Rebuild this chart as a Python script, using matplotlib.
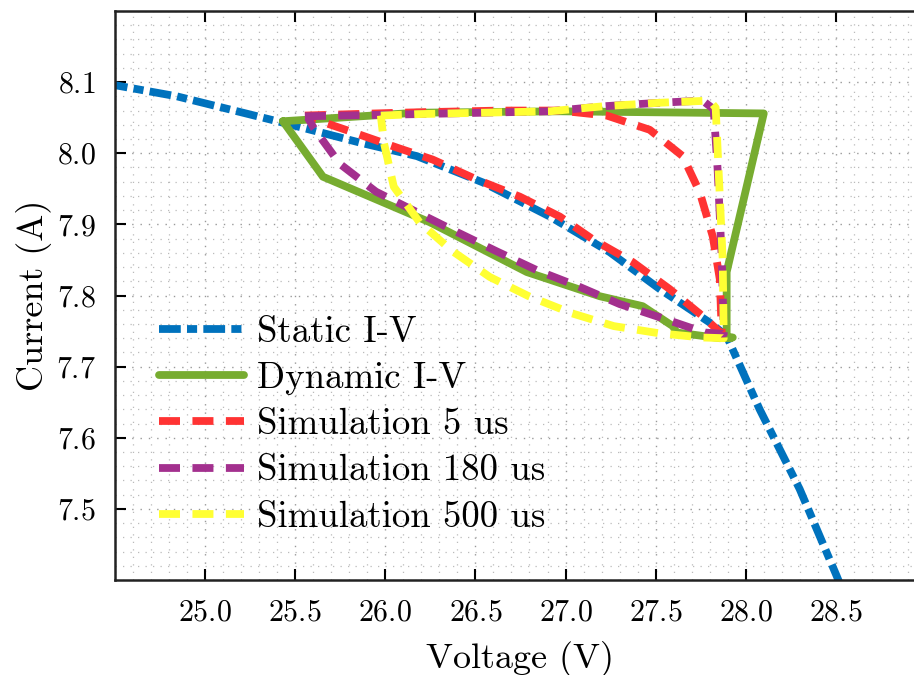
import matplotlib
matplotlib.use("Agg")
import matplotlib.pyplot as plt
from matplotlib.ticker import MultipleLocator

plt.rcParams['font.family'] = 'serif'
plt.rcParams['font.serif'] = ['cmr10']
plt.rcParams['mathtext.fontset'] = 'cm'
plt.rcParams['axes.formatter.use_mathtext'] = True

# static I-V curve
static_v = [24.45, 24.844, 25.21, 25.432, 25.859, 26.175, 26.541, 26.913, 27.245,
            27.523, 27.80, 27.894, 28.077, 28.299, 28.504, 28.53]
static_i = [8.098, 8.080, 8.057, 8.043, 8.015, 7.996, 7.959, 7.911, 7.861,
            7.809, 7.762, 7.743, 7.640, 7.528, 7.406, 7.39]

# measured dynamic loop
dyn_v = [25.432, 25.654, 26.247, 26.785, 27.19, 27.428, 27.595, 27.617, 27.856,
         27.928, 27.894, 27.894, 28.10, 26.968, 26.175, 25.432]
dyn_i = [8.045, 7.967, 7.903, 7.833, 7.799, 7.785, 7.757, 7.748, 7.740,
         7.741, 7.740, 7.833, 8.056, 8.059, 8.057, 8.045]

# simulation 5 us
sim5_v = [25.554, 26.081, 26.635, 26.968, 27.229, 27.467, 27.65, 27.745, 27.817,
          27.856, 27.867, 27.761, 27.578, 27.373, 27.151, 26.968, 26.746, 26.508,
          26.264, 26.064, 25.803, 25.582]
sim5_i = [8.053, 8.057, 8.060, 8.060, 8.053, 8.033, 7.996, 7.945, 7.883,
          7.823, 7.746, 7.771, 7.809, 7.847, 7.879, 7.911, 7.939, 7.963,
          7.991, 8.008, 8.031, 8.050]

# simulation 180 us
sim180_v = [25.554, 26.175, 26.541, 26.913, 27.207, 27.523, 27.761, 27.822, 27.844,
            27.867, 27.878, 27.772, 27.539, 27.30, 27.079, 26.846, 26.619, 26.391,
            26.169, 25.948, 25.748, 25.604, 25.57]
sim180_i = [8.052, 8.055, 8.057, 8.059, 8.066, 8.071, 8.074, 8.062, 7.977,
            7.851, 7.746, 7.748, 7.768, 7.788, 7.812, 7.835, 7.862, 7.890,
            7.918, 7.946, 7.985, 8.035, 8.050]

# simulation 500 us
sim500_v = [25.975, 26.175, 26.541, 26.913, 27.207, 27.523, 27.80, 27.833, 27.844,
            27.872, 27.878, 27.756, 27.517, 27.268, 27.035, 26.796, 26.58, 26.369,
            26.19, 26.047, 25.992, 25.975]
sim500_i = [8.053, 8.055, 8.057, 8.059, 8.066, 8.071, 8.074, 8.064, 8.005,
            7.851, 7.740, 7.741, 7.747, 7.757, 7.775, 7.799, 7.826, 7.863,
            7.903, 7.953, 8.015, 8.053]

fig = plt.figure(figsize=(9.14, 6.75), dpi=100)
ax = fig.add_axes([0.1258, 0.1407, 0.8873, 0.843])

lw = 5.6
dash = (2.7, 1.6)
ax.plot(static_v, static_i, color='#0072BD', lw=lw, dashes=(2.8, 0.8, 1.3, 0.8),
        dash_capstyle='butt', label='Static I-V')
ax.plot(dyn_v, dyn_i, color='#77AC30', lw=lw, solid_joinstyle='round',
        solid_capstyle='round', label='Dynamic I-V')
ax.plot(sim5_v, sim5_i, color='#FF3333', lw=lw, dashes=dash,
        label='Simulation 5 us')
ax.plot(sim180_v, sim180_i, color='#A3308E', lw=lw, dashes=dash,
        label='Simulation 180 us')
ax.plot(sim500_v, sim500_i, color='#FFFF33', lw=lw, dashes=dash,
        label='Simulation 500 us')

ax.set_xlim(24.5, 29.0)
ax.set_ylim(7.4, 8.2)
ax.set_xticks([25.0, 25.5, 26.0, 26.5, 27.0, 27.5, 28.0, 28.5])
ax.set_yticks([7.5, 7.6, 7.7, 7.8, 7.9, 8.0, 8.1])
ax.xaxis.set_minor_locator(MultipleLocator(0.1))
ax.yaxis.set_minor_locator(MultipleLocator(0.02))
ax.grid(True, which='major', linestyle=(0, (1, 5)), color='#999999', lw=1.0)
ax.grid(True, which='minor', linestyle=(0, (1, 5)), color='#bbbbbb', lw=0.9)
ax.set_axisbelow(True)
ax.tick_params(which='major', direction='in', length=8, width=1.5,
               top=True, right=True, labelsize=21.5, pad=14)
ax.tick_params(which='minor', length=0)
for s in ax.spines.values():
    s.set_linewidth(1.8)
    s.set_color('#222222')

ax.set_xlabel('Voltage (V)', fontsize=26, labelpad=10)
ax.set_ylabel('Current (A)', fontsize=26, labelpad=3)

ax.legend(loc='lower left', bbox_to_anchor=(0.009, 0.017), frameon=False, fontsize=26.5,
          handlelength=2.3, handletextpad=0.35, labelspacing=0.35, borderaxespad=0.5,
          borderpad=0.5)

fig.savefig('out.png', dpi=100)
